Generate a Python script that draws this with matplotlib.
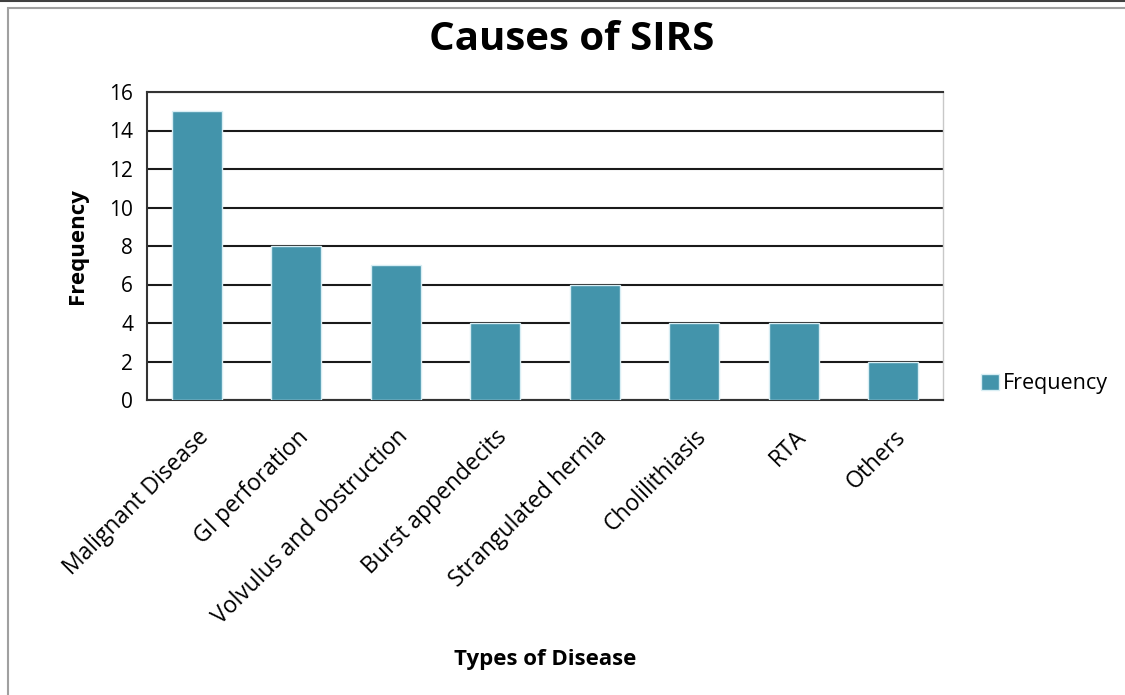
import matplotlib
matplotlib.use("Agg")
import matplotlib.pyplot as plt
from matplotlib.patches import Rectangle
import numpy as np

categories = ["Malignant Disease", "GI perforation", "Volvulus and obstruction",
              "Burst appendecits", "Strangulated hernia", "Cholilithiasis", "RTA", "Others"]
frequency = [15, 8, 7, 4, 6, 4, 4, 2]
yticks = [0, 2, 4, 6, 8, 10, 12, 14, 16]

plt.rcParams['font.family'] = ['Open Sans', 'DejaVu Sans']

fig = plt.figure(figsize=(11.25, 6.95), dpi=100)
W, H = 1125, 695
ax = fig.add_axes([147 / W, 1 - 400 / H, (943 - 147) / W, (400 - 92) / H])

# outer frame
fig.patches.append(Rectangle((8 / W, -0.05), 1.1, 1 - 8 / H + 0.05, transform=fig.transFigure,
                             fill=False, edgecolor='#a0a0a0', linewidth=1.5))
fig.add_artist(plt.Line2D([0, 1], [1 - 1 / H, 1 - 1 / H], transform=fig.transFigure,
                          color='#404040', linewidth=1.5))

x = np.arange(len(categories))
bars = ax.bar(x, frequency, width=0.5, color='#4394AB', edgecolor='#d8eef4', linewidth=1,
              label='Frequency', zorder=3)
ax.set_xlim(-0.5, len(categories) - 0.5)
ax.set_ylim(0, 16)
ax.set_yticks(yticks)
ax.set_yticklabels([str(t) for t in yticks], fontsize=15)
ax.set_xticks(x)
ax.set_xticklabels(categories, rotation=45, ha='right', rotation_mode='anchor', fontsize=16.5)
ax.tick_params(axis='x', length=0, pad=18)
ax.tick_params(axis='y', length=0, pad=10)
ax.grid(axis='y', color='#1a1a1a', linewidth=1.5, zorder=1)
for s in ['left', 'top']:
    ax.spines[s].set_color('#333333')
    ax.spines[s].set_linewidth(1.5)
ax.spines['bottom'].set_color('#333333')
ax.spines['bottom'].set_linewidth(1.5)
ax.spines['right'].set_color('#c8c8c8')
ax.spines['right'].set_linewidth(1.0)

ax.set_ylabel('Frequency', fontsize=16, fontweight='bold')
ax.set_xlabel('Types of Disease', fontsize=16, fontweight='bold')
ax.xaxis.set_label_coords(0.5, -(660 - 400) / (400 - 92))
ax.yaxis.set_label_coords(-(147 - 78) / (943 - 147), 0.5)
ax.yaxis.label.set_va('center')
ax.xaxis.label.set_va('center')

fig.text(572 / W, 1 - 40 / H, 'Causes of SIRS', ha='center', va='center', fontsize=29, fontweight='bold')

leg = fig.legend(handles=[bars], labels=['Frequency'], loc='center left',
                 bbox_to_anchor=(962 / W, 1 - 384 / H), frameon=False, fontsize=15.5,
                 handlelength=0.8, handleheight=0.8, handletextpad=0.2)

fig.savefig('out.png', dpi=100)
